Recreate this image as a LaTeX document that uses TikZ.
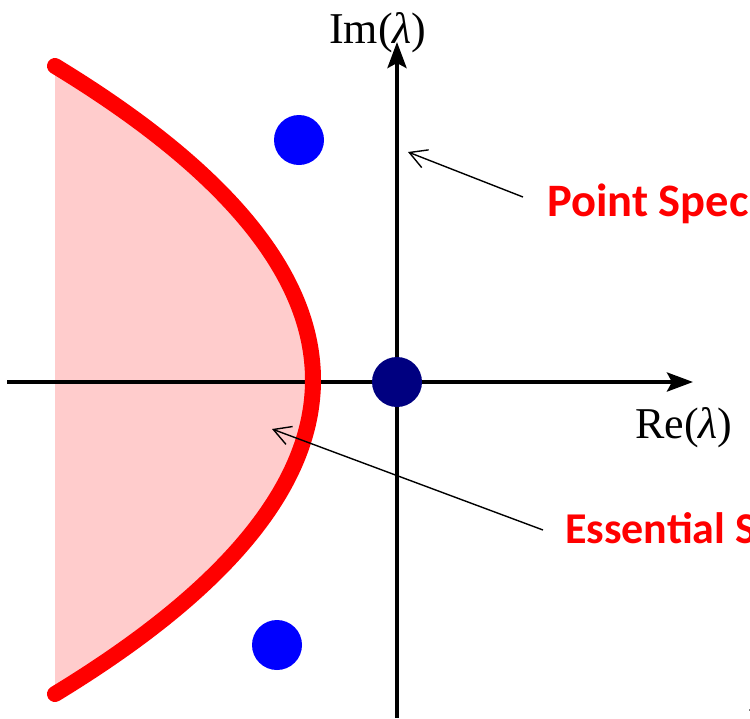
\documentclass[tikz,border=0pt]{standalone}
\usepackage{fontspec}
\setmainfont{Liberation Serif}
\newfontfamily\speclabelfont{Carlito}
\usetikzlibrary{arrows.meta}
\definecolor{specpink}{RGB}{255,204,204}
\definecolor{ptblue}{RGB}{0,0,255}
\definecolor{zeronavy}{RGB}{0,0,128}

\begin{document}
\begin{tikzpicture}[x=1pt, y=-1pt,
    axis/.style={line width=4pt, -{Stealth[length=26pt, width=19pt, inset=5pt]}},
    ptr/.style={line width=1.4pt, -{Straight Barb[length=17pt, width=19pt]}},
    eig/.style={circle, fill=ptblue, inner sep=0pt, minimum size=50pt},
    axlabel/.style={inner sep=0pt, font=\fontsize{44}{50}\selectfont},
    speclabel/.style={inner sep=0pt, text=red, font=\speclabelfont\bfseries\fontsize{44}{52}\selectfont}]
    \useasboundingbox (0,0) rectangle (750,718);
    \clip (0,0) rectangle (750,718);

    % Essential spectrum
    \fill[specpink] (55,66) .. controls (399,275) and (399,485) .. (55,694) -- cycle;

    % Axes
    \coordinate (xl) at (7,382);
    \coordinate (xr) at (693,382);
    \coordinate (yb) at (397,718);
    \coordinate (yt) at (397,42);
    \draw[axis] (xl) -- (xr);
    \draw[axis] (yb) -- (yt);
    \node[axlabel, anchor=base west] (im) at (329,43) {Im(\textit{λ})};
    \node[axlabel, anchor=base west] (re) at (635,438) {Re(\textit{λ})};

    \draw[red, line width=16pt, line cap=round] (55,66) .. controls (399,275) and (399,485) .. (55,694);

    % Eigenvalues
    \node[eig] (ev1) at (299,140) {};
    \node[eig] (ev2) at (277,645) {};
    \node[eig, fill=zeronavy] (ev0) at (397,382) {};

    % Labels
    \node[speclabel, anchor=base west, font=\speclabelfont\bfseries\fontsize{46.5}{52}\selectfont] (pspec) at (547,216) {Point Spec};
    \node[speclabel, anchor=base west] (espec) at (565,543) {Essential S};
    \coordinate (pstail) at (523,197);
    \coordinate (pstip) at (408,152);
    \coordinate (estail) at (543,530);
    \coordinate (estip) at (272,429);
    \draw[ptr] (pstail) -- (pstip);
    \draw[ptr] (estail) -- (estip);

    \node[axlabel, anchor=north west] (dd) at (734,710) {\textit{d}};
\end{tikzpicture}
\end{document}
